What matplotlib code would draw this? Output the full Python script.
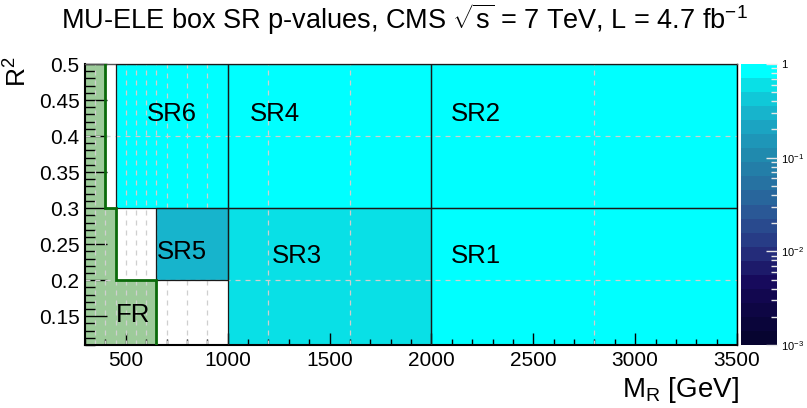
import numpy as np
import matplotlib
matplotlib.use("Agg")
import matplotlib.pyplot as plt
from matplotlib.colors import ListedColormap, LogNorm
from matplotlib.patches import Rectangle
from matplotlib.ticker import LogLocator, FixedLocator, MultipleLocator, NullFormatter

plt.rcParams["font.family"] = ["Liberation Sans", "DejaVu Sans"]
plt.rcParams["mathtext.fontset"] = "custom"
plt.rcParams["mathtext.rm"] = "Liberation Sans"
plt.rcParams["mathtext.it"] = "Liberation Sans:italic"

# signal regions: name, (mr_lo, mr_hi), (rsq_lo, rsq_hi), p-value
sr_names = ["SR1", "SR2", "SR3", "SR4", "SR5", "SR6"]
sr_mr = [(2000, 3500), (2000, 3500), (1000, 2000), (1000, 2000), (650, 1000), (450, 1000)]
sr_rsq = [(0.11, 0.3), (0.3, 0.5), (0.11, 0.3), (0.3, 0.5), (0.2, 0.3), (0.3, 0.5)]
sr_pval = [0.9, 0.95, 0.6, 0.95, 0.3, 0.92]
sr_label_pos = [(2220, 0.234), (2220, 0.43), (1340, 0.234), (1230, 0.43), (775, 0.239), (725, 0.43)]

# fit region boundary (step in MR vs R^2)
fr_mr = [400, 450, 650]
fr_rsq = [(0.3, 0.5), (0.2, 0.3), (0.11, 0.2)]

mr_edges = [300, 400, 450, 650, 1000, 2000, 3500]
rsq_edges = [0.11, 0.2, 0.3, 0.5]
mr_grid = [350, 400, 450, 500, 550, 600, 650, 700, 800, 900, 1200, 1600, 2800]
rsq_grid = [0.2, 0.4]

# ROOT-like palette, 20 bands from 1e-3 to 1
band_colors = ["#070430", "#0a053a", "#0e0644", "#12074f", "#170a5c", "#1d1a6a",
               "#242c7a", "#273c86", "#294a8e", "#2a5896", "#28669c", "#2672a2",
               "#237ea8", "#208aae", "#1e96b8", "#1ba4c2", "#17b4cc", "#10c8d8",
               "#09e0e6", "#00ffff"]
cmap = ListedColormap(band_colors)
norm = LogNorm(vmin=1e-3, vmax=1)

fig = plt.figure(figsize=(8.07, 4.08), dpi=100)
ax = fig.add_axes([85 / 807, 1 - 345 / 408, 652 / 807, 281 / 408])
cax = fig.add_axes([741 / 807, 1 - 345 / 408, 36 / 807, 281 / 408])

# build the p-value grid from the signal regions
xc = 0.5 * (np.array(mr_edges[:-1]) + np.array(mr_edges[1:]))
yc = 0.5 * (np.array(rsq_edges[:-1]) + np.array(rsq_edges[1:]))
Z = np.full((len(yc), len(xc)), np.nan)
for (x0, x1), (y0, y1), p in zip(sr_mr, sr_rsq, sr_pval):
    for j, y in enumerate(yc):
        for i, x in enumerate(xc):
            if x0 <= x <= x1 and y0 <= y <= y1 and np.isnan(Z[j, i]):
                Z[j, i] = p
mesh = ax.pcolormesh(mr_edges, rsq_edges, np.ma.masked_invalid(Z), cmap=cmap, norm=norm, zorder=1)

# fit region
for x, (y0, y1) in zip(fr_mr, fr_rsq):
    ax.fill_between([300, x], y0, y1, color="#9dcb9a", lw=0, zorder=1)
step_x = [fr_mr[0], fr_mr[0], fr_mr[1], fr_mr[1], fr_mr[2], fr_mr[2]]
step_y = [fr_rsq[0][1], fr_rsq[0][0], fr_rsq[1][1], fr_rsq[1][0], fr_rsq[2][1], fr_rsq[2][0]]
ax.plot(step_x, step_y, color="#0a6a0a", lw=2, zorder=4, solid_joinstyle="miter")

# dashed bin grid (not drawn inside SR5)
gkw = dict(colors="#cfcfcf", linestyles=(0, (4, 4)), lw=0.9, zorder=2)
for x in mr_grid:
    if 650 < x < 1000:
        ax.vlines(x, 0.11, 0.2, **gkw)
        ax.vlines(x, 0.3, 0.5, **gkw)
    else:
        ax.vlines(x, 0.11, 0.5, **gkw)
ax.hlines(rsq_grid, 300, 3500, **gkw)

for (x0, x1), (y0, y1), name, (lx, ly) in zip(sr_mr, sr_rsq, sr_names, sr_label_pos):
    ax.add_patch(Rectangle((x0, y0), x1 - x0, y1 - y0, fill=False, ec="#1a1a1a", lw=0.9, zorder=3))
    ax.text(lx, ly, name, fontsize=18.5, ha="center", va="center", zorder=5)
ax.text(535, 0.151, "FR", fontsize=18.5, ha="center", va="center", zorder=5)

ax.set_xlim(300, 3500)
ax.set_ylim(0.11, 0.5)
ax.xaxis.set_major_locator(MultipleLocator(500))
ax.xaxis.set_minor_locator(MultipleLocator(100))
ax.yaxis.set_major_locator(MultipleLocator(0.05))
ax.yaxis.set_minor_locator(MultipleLocator(0.01))
ax.yaxis.set_major_formatter(plt.FuncFormatter(lambda v, _: f"{v:g}"))
ax.tick_params(axis="x", which="major", direction="in", length=9, width=1, labelsize=15, pad=4)
ax.tick_params(axis="x", which="minor", direction="in", length=4.5, width=1)
ax.tick_params(axis="y", which="major", direction="in", length=16, width=1, labelsize=15, pad=4)
ax.tick_params(axis="y", which="minor", direction="in", length=7.5, width=1)
for s in ("left", "bottom"):
    ax.spines[s].set_linewidth(1.5)
for s in ("top", "right"):
    ax.spines[s].set_linewidth(1.0)
ax.spines["top"].set_color("#555555")

fig.text(18 / 807, 1 - 56 / 408, "R$^{2}$", rotation=90, fontsize=19, ha="center", va="top")
fig.text(739 / 807, 1 - 405 / 408, "M$_{\\mathrm{R}}$ [GeV]", fontsize=20, ha="right", va="bottom")
fig.text(404 / 807, 1 - 19 / 408,
         "MU-ELE box SR p-values, CMS $\\sqrt{\\mathrm{s}}$ = 7 TeV, L = 4.7 fb$^{-1}$",
         fontsize=19.5, ha="center", va="center")

cb = fig.colorbar(mesh, cax=cax)
cb.outline.set_visible(False)
cax.yaxis.set_major_locator(FixedLocator([1e-3, 1e-2, 1e-1, 1]))
cax.yaxis.set_minor_locator(LogLocator(base=10, subs=np.arange(2, 10)))
cax.yaxis.set_minor_formatter(NullFormatter())
cax.set_yticklabels(["10$^{-3}$", "10$^{-2}$", "10$^{-1}$", "1"])
cax.tick_params(which="major", direction="in", length=8, width=1, color="#e8e8e8", labelsize=8, pad=3)
cax.tick_params(which="minor", direction="in", length=4, width=1, color="#e8e8e8")

fig.savefig("out.png", dpi=100)
